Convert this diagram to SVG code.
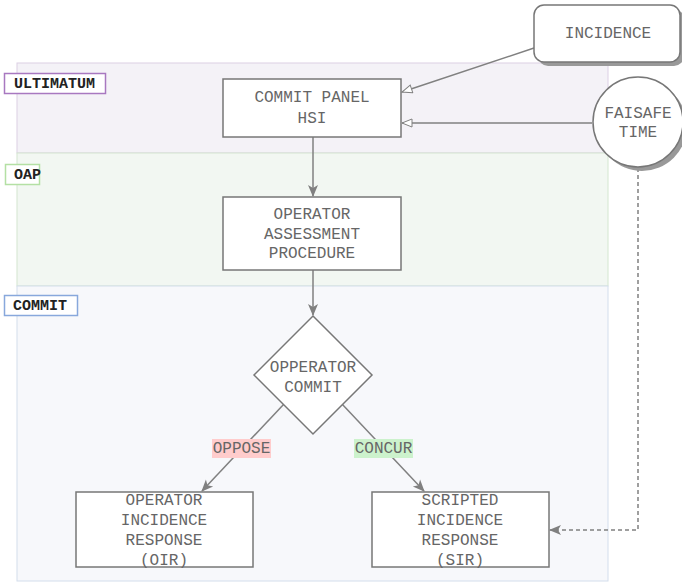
<svg xmlns="http://www.w3.org/2000/svg" width="682" height="583" viewBox="0 0 682 583">
<style>
.t{font-family:"Liberation Mono","DejaVu Sans Mono",monospace;font-size:16px;fill:#666;text-anchor:middle}
.lb{font-family:"Liberation Mono","DejaVu Sans Mono",monospace;font-size:15px;font-weight:bold;fill:#222}
.n{fill:#fff;stroke:#777;stroke-width:1.5}
.c{fill:none;stroke:#808080;stroke-width:1.5}
</style>
<defs>
<marker id="a" viewBox="0 0 12 12" refX="11" refY="6" markerWidth="12" markerHeight="12" markerUnits="userSpaceOnUse" orient="auto"><path d="M0,1 L12,6 L0,11 L3,6 Z" fill="#808080"/></marker>
<marker id="o" viewBox="0 0 12 10" refX="11" refY="5" markerWidth="12" markerHeight="10" markerUnits="userSpaceOnUse" orient="auto"><path d="M1,1 L11,5 L1,9 Z" fill="#fff" stroke="#808080" stroke-width="1"/></marker>
</defs>
<g id="lanes">
<rect x="17" y="63" width="591" height="90" fill="#f4f2f7" stroke="#dcd0e4"/>
<rect x="17" y="153" width="591" height="133" fill="#f2f7f2" stroke="#d4e6d0"/>
<rect x="17" y="286" width="591" height="295" fill="#f7f8fb" stroke="#d3deec"/>
</g>
<g id="lane-labels">
<rect x="4.5" y="73.5" width="101" height="20" fill="#fff" stroke="#a878c0" stroke-width="1.5"/>
<text class="lb" x="14" y="88">ULTIMATUM</text>
<rect x="5.5" y="164.5" width="34" height="20" fill="#fff" stroke="#b4e0a4" stroke-width="1.5"/>
<text class="lb" x="14" y="179">OAP</text>
<rect x="4.5" y="295.5" width="73" height="20" fill="#fff" stroke="#88a8dc" stroke-width="1.5"/>
<text class="lb" x="13" y="310">COMMIT</text>
</g>
<g id="connectors">
<path class="c" d="M534,48 L402,92" marker-end="url(#o)"/>
<path class="c" d="M592,123 L402,123" marker-end="url(#o)"/>
<path class="c" d="M313,137 L313,196" marker-end="url(#a)"/>
<path class="c" d="M313,270 L313,315" marker-end="url(#a)"/>
<path class="c" d="M284,404 L202,491" marker-end="url(#a)"/>
<path class="c" d="M342,404 L424,491" marker-end="url(#a)"/>
<path class="c" d="M638,168 L638,530 L550,530" stroke-dasharray="4 3" marker-end="url(#a)"/>
<rect x="212" y="439" width="59" height="19" fill="#ffcccc"/>
<text class="t" x="241.5" y="453">OPPOSE</text>
<rect x="354" y="439" width="59" height="19" fill="#ccf2cc"/>
<text class="t" x="383.5" y="453">CONCUR</text>
</g>
<g id="incidence">
<rect x="538" y="9" width="146" height="57" rx="10" fill="#999"/>
<rect x="534" y="5" width="146" height="57" rx="10" class="n"/>
<text class="t" x="608" y="38">INCIDENCE</text>
</g>
<g id="faisafe">
<circle cx="642" cy="126" r="45" fill="#999"/>
<circle cx="638" cy="122" r="45" class="n"/>
<text class="t" x="638" y="118">FAISAFE</text>
<text class="t" x="638" y="137">TIME</text>
</g>
<g id="commit-panel">
<rect x="223" y="79" width="178" height="58" class="n"/>
<text class="t" x="312" y="102">COMMIT PANEL</text>
<text class="t" x="312" y="123">HSI</text>
</g>
<g id="oap">
<rect x="223" y="197" width="178" height="73" class="n"/>
<text class="t" x="312" y="219">OPERATOR</text>
<text class="t" x="312" y="239">ASSESSMENT</text>
<text class="t" x="312" y="258">PROCEDURE</text>
</g>
<g id="decision">
<path d="M313,316 L372,375 L313,434 L254,375 Z" class="n"/>
<text class="t" x="313" y="372">OPPERATOR</text>
<text class="t" x="313" y="392">COMMIT</text>
</g>
<g id="oir">
<rect x="76" y="492" width="177" height="75" class="n"/>
<text class="t" x="164" y="505">OPERATOR</text>
<text class="t" x="164" y="525">INCIDENCE</text>
<text class="t" x="164" y="545">RESPONSE</text>
<text class="t" x="164" y="565">(OIR)</text>
</g>
<g id="sir">
<rect x="372" y="492" width="177" height="75" class="n"/>
<text class="t" x="460" y="505">SCRIPTED</text>
<text class="t" x="460" y="525">INCIDENCE</text>
<text class="t" x="460" y="545">RESPONSE</text>
<text class="t" x="460" y="565">(SIR)</text>
</g>
</svg>
